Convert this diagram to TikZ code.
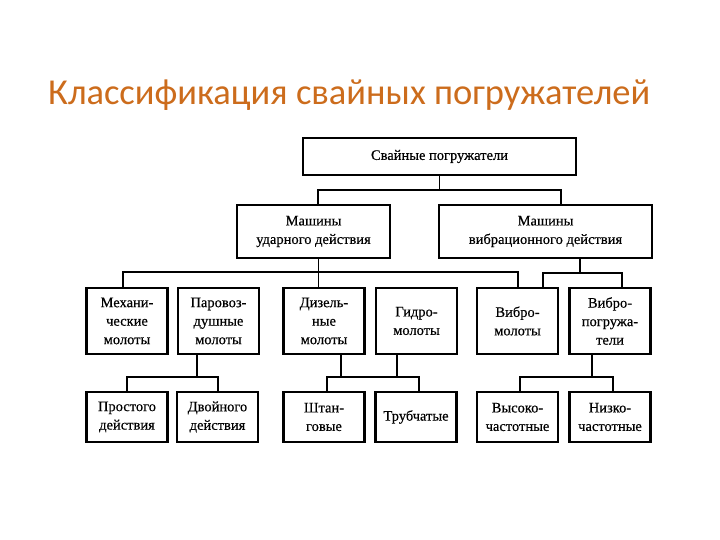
\documentclass[tikz,border=0pt]{standalone}
\usepackage{fontspec}
\setmainfont{Liberation Serif}
\newfontfamily\titlefont{Carlito}
\newfontfamily\boxfont[FakeBold=0.4]{Liberation Serif}
\definecolor{titleorange}{RGB}{204,108,28}
\begin{document}
\begin{tikzpicture}[x=1pt,y=-1pt,
  box/.style={draw=black,line width=2.2pt,fill=white,inner sep=0pt,align=center,
    font=\boxfont\fontsize{14.5}{18.5}\selectfont},
  conn/.style={draw=black,line width=1.8pt}]
\useasboundingbox (0,0) rectangle (720,540);
\node[anchor=base west,text=titleorange,font=\titlefont\fontsize{36.5}{42}\selectfont,inner sep=0pt] (title) at (48,105) {Классификация свайных погружателей};

\node[box,minimum width=273pt,minimum height=37pt] (top) at (439.5,156.5) {Свайные погружатели};
\node[box,minimum width=153pt,minimum height=53pt] (l2a) at (313.5,231.5) {Машины\\ударного действия};
\node[box,minimum width=213pt,minimum height=53pt] (l2b) at (545.5,231.5) {Машины\\вибрационного действия};

\tikzset{l3/.style={box,minimum width=81pt,minimum height=66pt},
         l4/.style={box,minimum width=81pt,minimum height=50pt}}
\node[l3] (m3) at (127,321) {Механи-\\ческие\\молоты};
\node[l3] (p3) at (218.5,321) {Паровоз-\\душные\\молоты};
\node[l3] (d3) at (324,321) {Дизель-\\ные\\молоты};
\node[l3] (g3) at (416.5,321) {Гидро-\\молоты};
\node[l3] (v3) at (517.5,321) {Вибро-\\молоты};
\node[l3] (vp3) at (610,321) {Вибро-\\погружа-\\тели};

\node[l4] (a4) at (127,417) {Простого\\действия};
\node[l4] (b4) at (217.5,417) {Двойного\\действия};
\node[l4] (s4) at (324,417) {Штан-\\говые};
\node[l4] (t4) at (416,417) {Трубчатые};
\node[l4] (h4) at (517.5,417) {Высоко-\\частотные};
\node[l4] (n4) at (610,417) {Низко-\\частотные};

% level 1 -> level 2
\coordinate (bus1) at (439.5,190);
\draw[conn] (top.south) -- (bus1);
\draw[conn] ([xshift=4.5pt]l2a.north) |- (bus1) -| ([xshift=15.5pt]l2b.north);

% level 2 -> level 3
\coordinate (busA) at (318.5,272);
\draw[conn] ([xshift=5pt]l2a.south) -- ([xshift=-5.5pt]d3.north);
\draw[conn] ([xshift=-4pt]m3.north) |- (busA) -| ([xshift=0.5pt]v3.north);
\coordinate (busB) at (580,273);
\draw[conn] ([xshift=34.5pt]l2b.south) -- (busB);
\draw[conn] ([xshift=25.5pt]v3.north) |- (busB) -| ([xshift=12pt]vp3.north);

% level 3 -> level 4
\coordinate (busC) at (197,377);
\draw[conn] ([xshift=-21.5pt]p3.south) -- (busC);
\draw[conn] (a4.north) |- (busC) -| ([xshift=0.5pt]b4.north);
\coordinate (busD) at (341,377);
\coordinate (busE) at (397,377);
\draw[conn] ([xshift=17pt]d3.south) -- (busD);
\draw[conn] ([xshift=-19.5pt]g3.south) -- (busE);
\draw[conn] ([xshift=3pt]s4.north) |- (busD) -- (busE) -| ([xshift=3pt]t4.north);
\coordinate (busF) at (592,377);
\draw[conn] ([xshift=-18pt]vp3.south) -- (busF);
\draw[conn] ([xshift=2.5pt]h4.north) |- (busF) -| ([xshift=3pt]n4.north);
\end{tikzpicture}
\end{document}
